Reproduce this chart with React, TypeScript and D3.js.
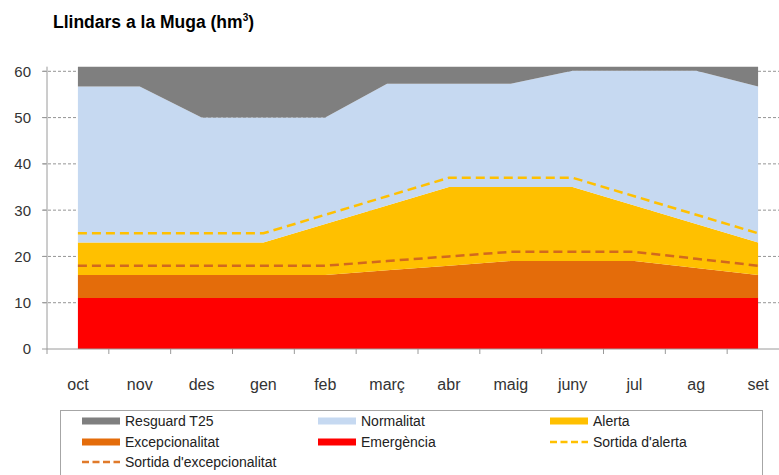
import React from "react";
import * as d3 from "d3";

// months (hydrological year oct -> set)
const months = ["oct", "nov", "des", "gen", "feb", "març", "abr", "maig", "juny", "jul", "ag", "set"];

// upper limit of each zone (hm3)
const emergencia = [11, 11, 11, 11, 11, 11, 11, 11, 11, 11, 11, 11];
const excepcionalitat = [16, 16, 16, 16, 16, 17, 18, 19, 19, 19, 17.5, 16];
const alerta = [23, 23, 23, 23, 27, 31, 35, 35, 35, 31, 27, 23];
const normalitat = [56.7, 56.7, 50, 50, 50, 57.3, 57.3, 57.3, 60.1, 60.1, 60.1, 56.7];
const resguard = [61, 61, 61, 61, 61, 61, 61, 61, 61, 61, 61, 61];

// exit thresholds
const sortidaAlerta = [25, 25, 25, 25, 29, 33, 37, 37, 37, 33, 29, 25];
const sortidaExcep = [18, 18, 18, 18, 18, 19, 20, 21, 21, 21, 19.5, 18];

const yTicks = [0, 10, 20, 30, 40, 50, 60];

const W = 779, H = 475;

export default function App() {
  const x = d3.scaleBand().domain(months).range([47, 789]);
  const y = d3.scaleLinear().domain([0, 60]).range([349, 71.3]);
  const cx = (i) => x(months[i]) + x.bandwidth() / 2;

  const zero = months.map(() => 0);
  const layers = [
    { name: "Emergència", lo: zero, hi: emergencia, color: "#ff0000" },
    { name: "Excepcionalitat", lo: emergencia, hi: excepcionalitat, color: "#e46c0a" },
    { name: "Alerta", lo: excepcionalitat, hi: alerta, color: "#ffc000" },
    { name: "Normalitat", lo: alerta, hi: normalitat, color: "#c6d9f1" },
    { name: "Resguard T25", lo: normalitat, hi: resguard, color: "#7f7f7f" },
  ];

  const area = (lo, hi) =>
    d3.area().x((d, i) => cx(i)).y0((d, i) => y(lo[i])).y1((d, i) => y(hi[i]))(months);
  const line = (vals) => d3.line().x((d, i) => cx(i)).y((d, i) => y(vals[i]))(months);

  const legendItems = [
    { label: "Resguard T25", color: "#7f7f7f", dash: false, col: 0, row: 0 },
    { label: "Normalitat", color: "#c6d9f1", dash: false, col: 1, row: 0 },
    { label: "Alerta", color: "#ffc000", dash: false, col: 2, row: 0 },
    { label: "Excepcionalitat", color: "#e46c0a", dash: false, col: 0, row: 1 },
    { label: "Emergència", color: "#ff0000", dash: false, col: 1, row: 1 },
    { label: "Sortida d'alerta", color: "#ffc000", dash: true, col: 2, row: 1 },
    { label: "Sortida d'excepcionalitat", color: "#e07a2a", dash: true, col: 0, row: 2 },
  ];
  const colX = [82, 318, 550];
  const rowY = [421, 442, 462];

  return (
    <div style={{ position: "absolute", left: 0, top: 0 }}>
      <svg width={W} height={H} style={{ display: "block", background: "#fff" }}>
        <text x={53} y={28} fontFamily="Liberation Sans, Arial, sans-serif" fontWeight="bold" fontSize={17.5} fill="#000">
          Llindars a la Muga (hm<tspan dy={-7} fontSize={10}>3</tspan><tspan dy={7}>)</tspan>
        </text>

        {/* gridlines */}
        {yTicks.filter((t) => t > 0).map((t) => (
          <line key={t} x1={43} x2={W} y1={y(t)} y2={y(t)} stroke="#7a7a7a" strokeWidth={0.8} strokeDasharray="3,2" />
        ))}

        {/* stacked zones */}
        {layers.map((l) => (
          <path key={l.name} d={area(l.lo, l.hi)} fill={l.color} />
        ))}

        {/* exit thresholds */}
        <path d={line(sortidaAlerta)} fill="none" stroke="#ffc000" strokeWidth={2.5} strokeDasharray="9,5" />
        <path d={line(sortidaExcep)} fill="none" stroke="#d2691e" strokeWidth={2.5} strokeDasharray="9,5" />

        {/* axes */}
        <line x1={47} x2={47} y1={y(61)} y2={y(0)} stroke="#9a9a9a" strokeWidth={1} />
        <line x1={47} x2={W} y1={y(0)} y2={y(0)} stroke="#9a9a9a" strokeWidth={1} />
        {yTicks.map((t) => (
          <g key={t}>
            <line x1={42} x2={47} y1={y(t)} y2={y(t)} stroke="#9a9a9a" />
            <text x={31} y={y(t)} dy="0.36em" textAnchor="end" fontFamily="Liberation Sans, Arial, sans-serif" fontSize={15} fill="#333">
              {t}
            </text>
          </g>
        ))}
        {months.map((m) => (
          <g key={m}>
            <line x1={x(m)} x2={x(m)} y1={y(0)} y2={y(0) + 5} stroke="#9a9a9a" />
            <text x={x(m) + x.bandwidth() / 2} y={390} textAnchor="middle" fontFamily="Liberation Sans, Arial, sans-serif" fontSize={16} fill="#333">
              {m}
            </text>
          </g>
        ))}

        {/* legend */}
        <rect x={60.5} y={410.5} width={702} height={70} fill="#fff" stroke="#a6a6a6" strokeWidth={1} />
        {legendItems.map((it) => {
          const lx = colX[it.col], ly = rowY[it.row];
          return (
            <g key={it.label}>
              {it.dash ? (
                <line x1={lx} x2={lx + 38} y1={ly} y2={ly} stroke={it.color} strokeWidth={2.5} strokeDasharray="7,3.5" />
              ) : (
                <rect x={lx} y={ly - 3.5} width={38} height={7} fill={it.color} />
              )}
              <text x={lx + 43} y={ly} dy="0.35em" fontFamily="Liberation Sans Narrow, Arial Narrow, Liberation Sans, sans-serif" fontSize={14} fill="#222">
                {it.label}
              </text>
            </g>
          );
        })}
      </svg>
    </div>
  );
}
